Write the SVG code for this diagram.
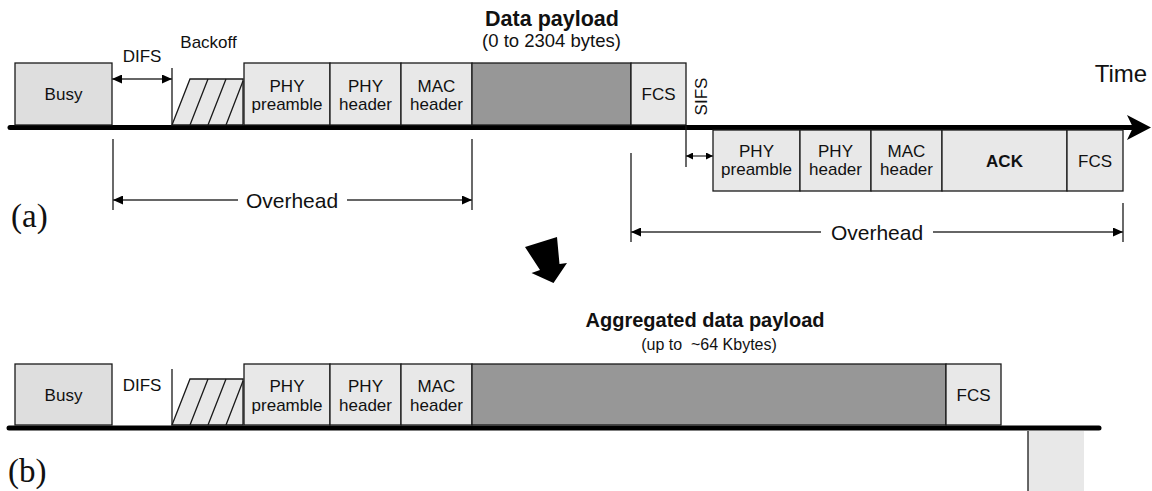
<svg xmlns="http://www.w3.org/2000/svg" width="1152" height="491" viewBox="0 0 1152 491">
<defs>
<style>
.box{fill:#e8e8e8;stroke:#1a1a1a;stroke-width:1.3}
.busy{fill:#dedede;stroke:#1a1a1a;stroke-width:1.3}
.pay{fill:#979797;stroke:#1a1a1a;stroke-width:1.3}
.hat{fill:#e8e8e8;stroke:#1a1a1a;stroke-width:1.3;stroke-linejoin:miter}
.ln{stroke:#1a1a1a;stroke-width:1.3;fill:none}
.t{font-family:"Liberation Sans",Arial,sans-serif;font-size:17px;fill:#111;text-anchor:middle}
.b{font-weight:bold}
.ovh{font-size:21px}
.ser{font-family:"Liberation Serif","Times New Roman",serif;font-size:33px;fill:#111}
.tl{stroke:#000;stroke-width:5;fill:none;stroke-linecap:round}
.dim{stroke:#333;stroke-width:1.3;fill:none}
</style>
<marker id="ah" viewBox="0 0 10 9" refX="10" refY="4.5" markerWidth="10" markerHeight="9" markerUnits="userSpaceOnUse" orient="auto-start-reverse">
<path d="M0,0 L10,4.5 L0,9 z" fill="#000"/>
</marker>
<marker id="ahs" viewBox="0 0 7 7" refX="7" refY="3.5" markerWidth="7" markerHeight="7" markerUnits="userSpaceOnUse" orient="auto-start-reverse">
<path d="M0,0 L7,3.5 L0,7 z" fill="#000"/>
</marker>
</defs>
<rect width="1152" height="491" fill="#fff"/>

<!-- Part (a) -->
<g id="timeline-a">
<line class="tl" x1="10" y1="127.5" x2="1132" y2="127.5"/>
<path d="M1127,115 L1151,127.5 L1127,140 L1133,127.5 z" fill="#000"/>
<text class="t" x="1121" y="82" style="font-size:24px">Time</text>
</g>

<g id="busy-a">
<rect class="busy" x="15" y="63" width="97" height="62"/>
<text class="t" x="63.5" y="100">Busy</text>
</g>

<g id="difs-a">
<text class="t" x="142" y="62">DIFS</text>
<line class="ln" x1="172" y1="68" x2="172" y2="125"/>
</g>

<g id="backoff-a">
<text class="t" x="208.5" y="48">Backoff</text>
<polygon class="hat" points="172,125 190,79 243,79 243,125"/>
<path class="ln" d="M190,125 L208,79 M208,125 L226,79 M226,125 L243,81"/>
</g>

<g id="phy-preamble-a">
<rect class="box" x="244" y="63" width="86" height="62"/>
<text class="t" x="287" y="92">PHY</text>
<text class="t" x="287" y="110">preamble</text>
</g>
<g id="phy-header-a">
<rect class="box" x="330" y="63" width="71" height="62"/>
<text class="t" x="365.5" y="92">PHY</text>
<text class="t" x="365.5" y="110">header</text>
</g>
<g id="mac-header-a">
<rect class="box" x="401" y="63" width="71" height="62"/>
<text class="t" x="436.5" y="92">MAC</text>
<text class="t" x="436.5" y="110">header</text>
</g>
<g id="payload-a">
<rect class="pay" x="472" y="63" width="159" height="62"/>
<text class="t b" x="552" y="26" style="font-size:21.5px">Data payload</text>
<text class="t" x="551.5" y="47" style="font-size:18.5px">(0 to 2304 bytes)</text>
</g>
<g id="fcs-a">
<rect class="box" x="631" y="63" width="55" height="62"/>
<text class="t" x="658.5" y="100">FCS</text>
</g>

<g id="sifs">
<text class="t" x="707" y="96.5" transform="rotate(-90 707 96.5)">SIFS</text>
</g>

<g id="ack-phy-preamble">
<rect class="box" x="713" y="130" width="87" height="61"/>
<text class="t" x="756.5" y="157">PHY</text>
<text class="t" x="756.5" y="175">preamble</text>
</g>
<g id="ack-phy-header">
<rect class="box" x="800" y="130" width="71" height="61"/>
<text class="t" x="835.5" y="157">PHY</text>
<text class="t" x="835.5" y="175">header</text>
</g>
<g id="ack-mac-header">
<rect class="box" x="871" y="130" width="71" height="61"/>
<text class="t" x="906.5" y="157">MAC</text>
<text class="t" x="906.5" y="175">header</text>
</g>
<g id="ack">
<rect class="box" x="942" y="130" width="125" height="61"/>
<text class="t b" x="1004.5" y="167">ACK</text>
</g>
<g id="ack-fcs">
<rect class="box" x="1067" y="130" width="56" height="61"/>
<text class="t" x="1095" y="167">FCS</text>
</g>

<g id="label-a">
<text class="ser" x="11" y="227">(a)</text>
</g>

<!-- connectors / dimension lines -->
<g id="connectors">
<line class="dim" x1="112" y1="79" x2="172" y2="79" marker-start="url(#ah)" marker-end="url(#ah)"/>
<line class="dim" x1="686" y1="156" x2="713" y2="156" marker-start="url(#ahs)" marker-end="url(#ahs)"/>
<line class="ln" x1="686" y1="126" x2="686" y2="167"/>

<line class="ln" x1="113" y1="139" x2="113" y2="210"/>
<line class="ln" x1="472" y1="139" x2="472" y2="210"/>
<line class="dim" x1="113" y1="200" x2="238" y2="200" marker-start="url(#ah)"/>
<line class="dim" x1="347" y1="200" x2="472" y2="200" marker-end="url(#ah)"/>
<text class="t ovh" x="292" y="207.5">Overhead</text>

<line class="ln" x1="631" y1="153" x2="631" y2="242"/>
<line class="ln" x1="1123" y1="203" x2="1123" y2="242"/>
<line class="dim" x1="631" y1="232" x2="821" y2="232" marker-start="url(#ah)"/>
<line class="dim" x1="933" y1="232" x2="1123" y2="232" marker-end="url(#ah)"/>
<text class="t ovh" x="877" y="239.5">Overhead</text>

<polygon id="down-arrow" points="525,247 557,237 559.5,264 567,263 553.5,283 531.5,273 540,270" fill="#000"/>
</g>

<!-- Part (b) -->
<g id="timeline-b">
<line class="tl" x1="9" y1="428" x2="1099" y2="428"/>
</g>
<g id="busy-b">
<rect class="busy" x="15" y="364" width="97" height="61"/>
<text class="t" x="63.5" y="401">Busy</text>
</g>
<g id="difs-b">
<text class="t" x="142" y="391">DIFS</text>
<line class="ln" x1="172" y1="369" x2="172" y2="425"/>
</g>
<g id="backoff-b">
<polygon class="hat" points="172,425 190,379 243,379 243,425"/>
<path class="ln" d="M190,425 L208,379 M208,425 L226,379 M226,425 L243,381"/>
</g>
<g id="phy-preamble-b">
<rect class="box" x="244" y="364" width="86" height="61"/>
<text class="t" x="287" y="392">PHY</text>
<text class="t" x="287" y="411">preamble</text>
</g>
<g id="phy-header-b">
<rect class="box" x="330" y="364" width="71" height="61"/>
<text class="t" x="365.5" y="392">PHY</text>
<text class="t" x="365.5" y="411">header</text>
</g>
<g id="mac-header-b">
<rect class="box" x="401" y="364" width="71" height="61"/>
<text class="t" x="436.5" y="392">MAC</text>
<text class="t" x="436.5" y="411">header</text>
</g>
<g id="payload-b">
<rect class="pay" x="472" y="364" width="474" height="61"/>
<text class="t b" x="705" y="327" style="font-size:20px">Aggregated data payload</text>
<text class="t" x="709" y="350" style="font-size:16px">(up to&#160; ~64 Kbytes)</text>
</g>
<g id="fcs-b">
<rect class="box" x="946" y="364" width="55" height="61"/>
<text class="t" x="973.5" y="401">FCS</text>
</g>
<g id="ack-stub-b">
<rect x="1028" y="431" width="56" height="62" fill="#e8e8e8"/>
<line class="ln" x1="1028" y1="431" x2="1028" y2="491"/>
</g>
<g id="label-b">
<text class="ser" x="8" y="482">(b)</text>
</g>
</svg>
